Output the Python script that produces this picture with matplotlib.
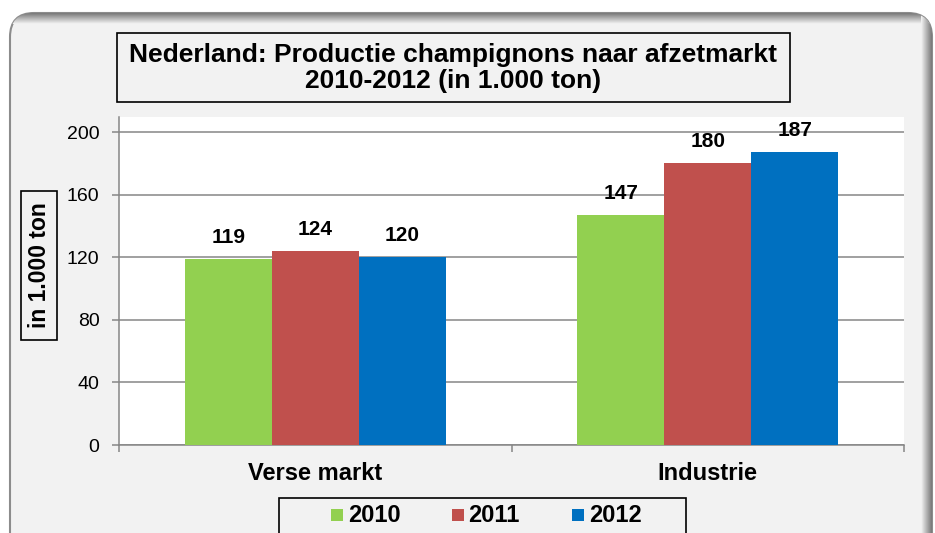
import numpy as np
import matplotlib
matplotlib.use("Agg")
import matplotlib.pyplot as plt
from matplotlib.patches import FancyBboxPatch, Rectangle
from matplotlib.colors import LinearSegmentedColormap

# data
categories = ["Verse markt", "Industrie"]
years = ["2010", "2011", "2012"]
values_2010 = [119, 147]
values_2011 = [124, 180]
values_2012 = [120, 187]
series = [values_2010, values_2011, values_2012]
colors = ["#92D050", "#C0504D", "#0070C0"]
yticks = [0, 40, 80, 120, 160, 200]
title = "Nederland: Productie champignons naar afzetmarkt\n2010-2012 (in 1.000 ton)"
ylabel = "in 1.000 ton"

plt.rcParams["font.family"] = ["Liberation Sans", "DejaVu Sans"]

W, H = 935, 533
fig = plt.figure(figsize=(W / 100, H / 100), dpi=100)
fig.patch.set_facecolor("white")

# background layer in pixel coordinates (frame, title box, legend)
bg = fig.add_axes([0, 0, 1, 1], zorder=0)
bg.axis("off")

frame = FancyBboxPatch((10, 13), 922, 545, boxstyle="round,pad=0,rounding_size=24",
                       fc="#F2F2F2", ec="#8C8C8C", lw=1.5, zorder=1)
bg.add_patch(frame)

shade = LinearSegmentedColormap.from_list("shade", ["#7A7A7A", "#F2F2F2"])
top_img = bg.imshow(np.linspace(0, 1, 20).reshape(-1, 1), cmap=shade,
                    extent=(10, 932, 24, 13), aspect="auto", zorder=2)
top_img.set_clip_path(frame)
right_img = bg.imshow(np.linspace(1, 0, 20).reshape(1, -1), cmap=shade,
                      extent=(921, 932, 558, 13), aspect="auto", zorder=2)
right_img.set_clip_path(frame)

bg.set_xlim(0, W)
bg.set_ylim(H, 0)

# title box
bg.add_patch(Rectangle((117, 33), 673, 69, fc="#F2F2F2", ec="black", lw=1.2, zorder=3))
bg.text(453, 68, title, ha="center", va="center", fontsize=19, fontweight="bold",
        linespacing=1.1, zorder=4)

# y label box
bg.add_patch(Rectangle((21, 191), 36, 149, fc="#F2F2F2", ec="black", lw=1.2, zorder=3))
bg.text(39, 265.5, ylabel, ha="center", va="center", rotation=90, fontsize=16.5,
        fontweight="bold", zorder=4)

# legend box
bg.add_patch(Rectangle((279, 498), 407, 50, fc="#F2F2F2", ec="black", lw=1.2, zorder=3))
for i, (yr, c) in enumerate(zip(years, colors)):
    bg.add_patch(Rectangle((331 + i * 120.5, 509), 12, 12, fc=c, ec="none", zorder=4))
    bg.text(348 + i * 120.5, 515.5, yr, ha="left", va="center", fontsize=17,
            fontweight="bold", zorder=4)

# main plot
ax = fig.add_axes([119 / W, 88 / H, 785 / W, 328 / H], zorder=1)
ax.set_facecolor("white")

x = np.arange(len(categories))
w = 0.2216
for i, (vals, c) in enumerate(zip(series, colors)):
    pos = x + (i - 1) * w
    ax.bar(pos, vals, w, color=c, zorder=3)
    for px, v in zip(pos, vals):
        ax.annotate(str(v), (px, v), xytext=(0, 11.5), textcoords="offset points",
                    ha="center", va="baseline", fontsize=15, fontweight="bold", zorder=4)

ax.set_xlim(-0.5, 1.5)
ax.set_ylim(0, 209.6)
ax.set_yticks(yticks)
ax.yaxis.grid(True, color="#868686", lw=1.1)
ax.set_axisbelow(True)

for s in ["top", "right"]:
    ax.spines[s].set_visible(False)
for s in ["left", "bottom"]:
    ax.spines[s].set_color("#868686")
    ax.spines[s].set_linewidth(1.1)

ax.tick_params(axis="y", length=5, width=1.1, color="#868686", pad=9, labelsize=14)
ax.set_xticks([-0.5, 0.5, 1.5])
ax.set_xticklabels([])
ax.set_xticks(x, minor=True)
ax.set_xticklabels(categories, minor=True, fontsize=17, fontweight="bold")
ax.tick_params(axis="x", which="major", length=5, width=1.1, color="#868686")
ax.tick_params(axis="x", which="minor", length=0, pad=12.5)

fig.savefig("out.png", dpi=100)
